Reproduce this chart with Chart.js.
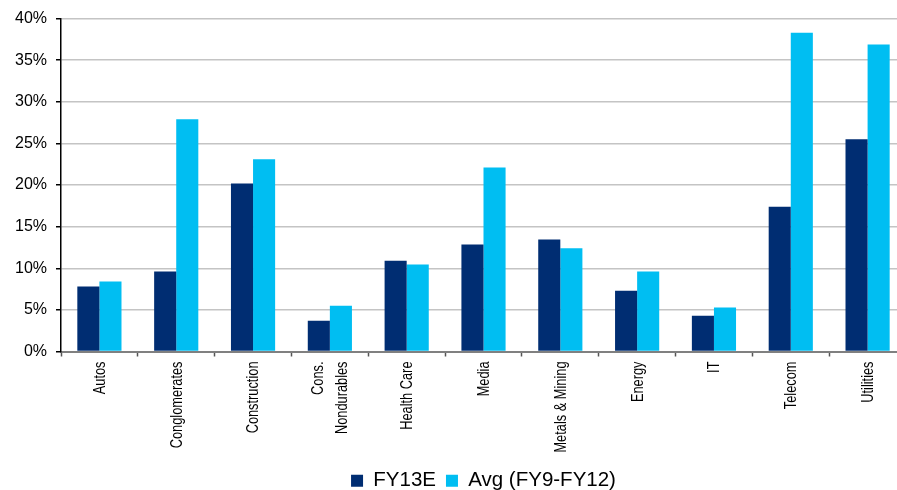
<!DOCTYPE html>
<html>
<head>
<meta charset="utf-8">
<script src="https://cdn.jsdelivr.net/npm/chart.js@4/dist/chart.umd.min.js"></script>
<style>
  html, body { margin: 0; padding: 0; background: #fff; overflow: hidden; }
  #wrap { width: 906px; height: 501px; position: relative; }
</style>
</head>
<body>
<div id="wrap"><canvas id="c"></canvas></div>
<script>
// Sector categories (multi-line labels as arrays)
const categories = [
  'Autos', 'Conglomerates', 'Construction', ['Cons.', 'Nondurables'], 'Health Care',
  'Media', 'Metals & Mining', 'Energy', 'IT', 'Telecom', 'Utilities'
];
// Values in percent
const fy13e = [7.8, 9.6, 20.2, 3.7, 10.9, 12.85, 13.45, 7.3, 4.3, 17.4, 25.5];
const avgFy9Fy12 = [8.4, 27.9, 23.1, 5.5, 10.45, 22.1, 12.4, 9.6, 5.3, 38.3, 36.9];
const seriesNames = ['FY13E', 'Avg (FY9-FY12)'];
const yTicks = [0, 5, 10, 15, 20, 25, 30, 35, 40];

const NAVY = '#002d72';
const CYAN = '#00bef2';

// Vertical, condensed category labels drawn under the x axis
const condensedLabels = {
  id: 'condensedLabels',
  afterDraw(chart) {
    const ctx = chart.ctx;
    const x = chart.scales.x;
    const top = x.top + 10;
    const clipBottom = 453;
    const lineH = 24;
    ctx.save();
    ctx.beginPath();
    ctx.rect(0, x.top + 2, chart.width, clipBottom - x.top - 2);
    ctx.clip();
    ctx.fillStyle = '#000';
    ctx.font = '16px "Liberation Sans", Arial, sans-serif';
    ctx.textAlign = 'right';
    ctx.textBaseline = 'middle';
    categories.forEach((lab, i) => {
      const lines = Array.isArray(lab) ? lab : [lab];
      const cx = x.getPixelForValue(i);
      ctx.save();
      ctx.translate(cx, top);
      ctx.rotate(-Math.PI / 2);
      ctx.scale(0.8, 1);
      lines.forEach((ln, j) => {
        const dy = (j - (lines.length - 1) / 2) * lineH;
        ctx.fillText(ln, 0, dy + 1);
      });
      ctx.restore();
    });
    ctx.restore();
  }
};

new Chart(document.getElementById('c'), {
  type: 'bar',
  data: {
    labels: categories,
    datasets: [
      { label: seriesNames[0], data: fy13e, backgroundColor: NAVY, borderWidth: 0 },
      { label: seriesNames[1], data: avgFy9Fy12, backgroundColor: CYAN, borderWidth: 0 }
    ]
  },
  plugins: [condensedLabels],
  options: {
    responsive: true,
    maintainAspectRatio: false,
    animation: false,
    layout: { padding: { top: 17, right: 0, bottom: 0, left: 0 } },
    datasets: { bar: { categoryPercentage: 0.575, barPercentage: 1.0 } },
    plugins: {
      tooltip: { enabled: false },
      legend: {
        position: 'bottom',
        fullSize: false,
        labels: {
          boxWidth: 12, boxHeight: 12, padding: 10,
          color: '#000',
          font: { family: '"Liberation Sans", Arial, sans-serif', size: 20.5 }
        }
      }
    },
    scales: {
      x: {
        offset: true,
        grid: {
          offset: true, drawOnChartArea: false, drawTicks: true,
          tickLength: 5, tickColor: '#555', tickWidth: 1.5
        },
        border: { color: '#808080', width: 2 },
        ticks: { display: false },
        afterFit: (s) => { s.height = 109; }
      },
      y: {
        min: 0, max: 40,
        afterBuildTicks: (s) => { s.ticks = yTicks.map(v => ({ value: v })); },
        grid: {
          color: '#c4c4c4', lineWidth: 1.5, drawTicks: true,
          tickLength: 5, tickColor: '#000'
        },
        border: { color: '#000', width: 1.5 },
        ticks: {
          padding: 9, color: '#000',
          font: { family: '"Liberation Sans", Arial, sans-serif', size: 16 },
          callback: (v) => v + '%'
        },
        afterFit: (s) => { s.width = 61; }
      }
    }
  }
});
</script>
</body>
</html>
